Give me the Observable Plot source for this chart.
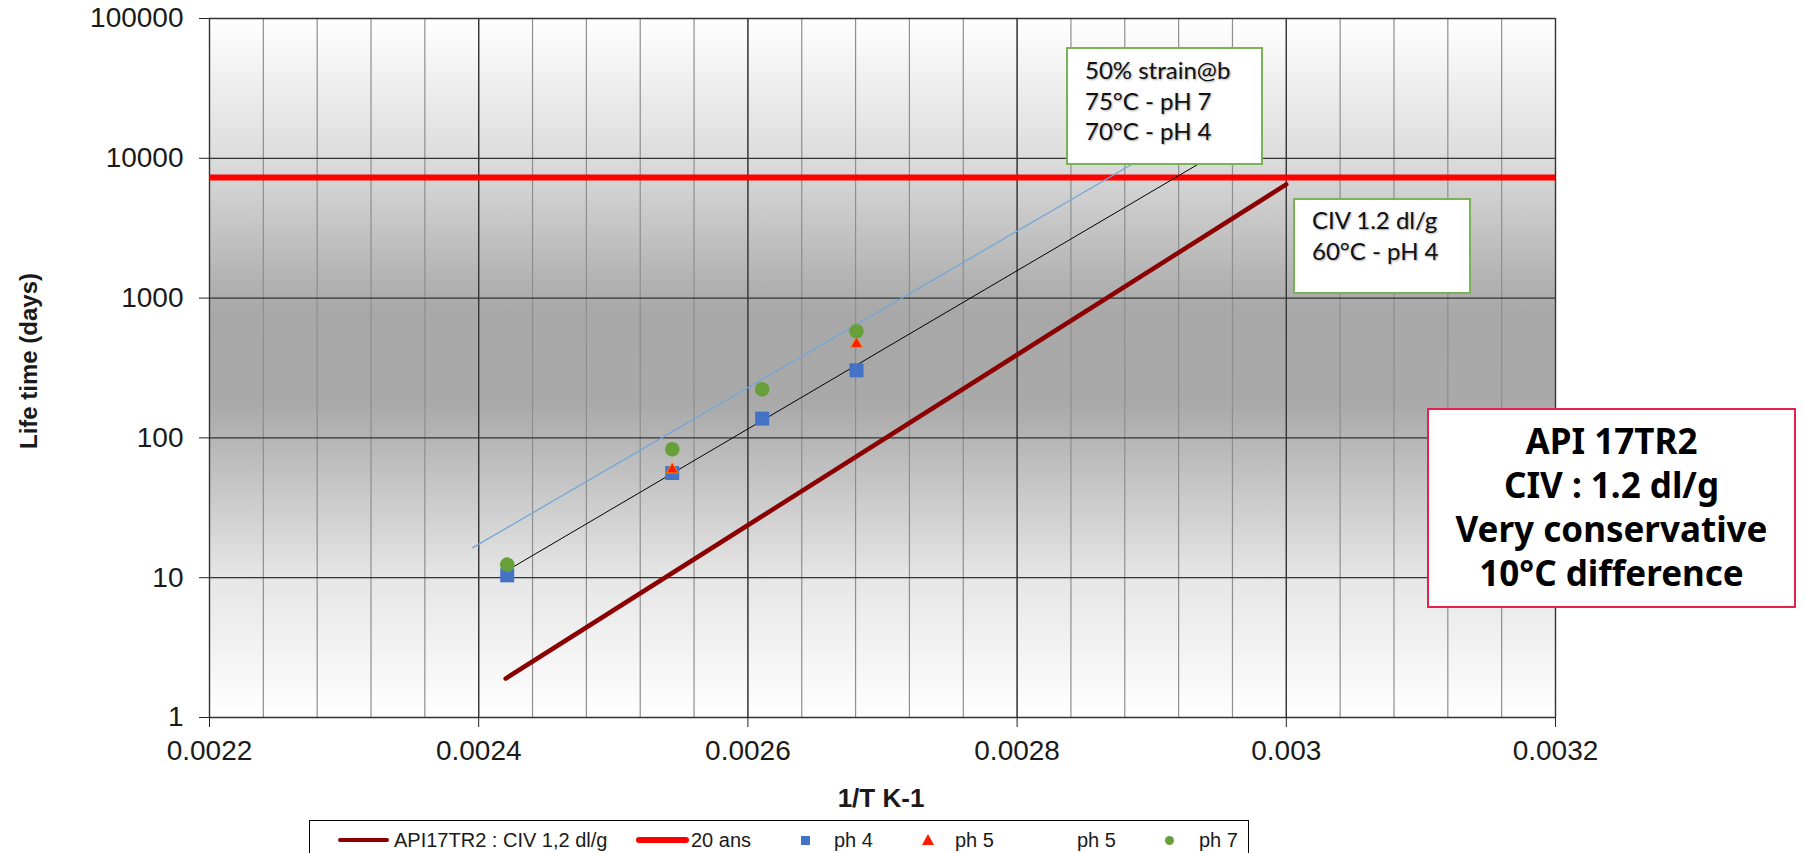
<!DOCTYPE html>
<html>
<head>
<meta charset="utf-8">
<script src="https://cdn.jsdelivr.net/npm/d3@7"></script>
<script src="https://cdn.jsdelivr.net/npm/@observablehq/plot@0.6"></script>
<style>
  body { margin: 0; background: #fff; }
  #wrap { position: relative; width: 1805px; height: 853px; overflow: hidden; font-family: "Liberation Sans", Arial, sans-serif; color: #1a1a1a; }
  #wrap svg { position: absolute; left: 0; top: 0; }
  .abs { position: absolute; white-space: nowrap; }
  .ylab { position: absolute; left: 29px; top: 361px; font-weight: bold; font-size: 24px; transform: translate(-50%, -50%) rotate(-90deg); white-space: nowrap; line-height: 24px; }
  .xlab { position: absolute; left: 881px; top: 798px; font-weight: bold; font-size: 26px; transform: translate(-50%, -50%); white-space: nowrap; line-height: 26px; }
  .note { position: absolute; box-sizing: border-box; background: #fff; font-family: Lato, "Open Sans", sans-serif; font-size: 24px; line-height: 30.7px; color: #111; text-shadow: 1px 1px 2px rgba(0,0,0,0.35); white-space: nowrap; }
  .note1 { left: 1066px; top: 47px; width: 197px; height: 118px; border: 2px solid #7ab356; padding: 6px 0 0 17px; }
  .note2 { left: 1293px; top: 198px; width: 178px; height: 96px; border: 2px solid #7ab356; padding: 5px 0 0 17px; }
  .note3 { position: absolute; box-sizing: border-box; left: 1427px; top: 408px; width: 369px; height: 200px; border: 2px solid #e3234e; background: #fff; padding-top: 9px; text-align: center; font-family: "Noto Sans", "DejaVu Sans", sans-serif; font-weight: bold; font-size: 35px; line-height: 43.9px; color: #000; }
  #legend { position: absolute; left: 309px; top: 820px; width: 940px; height: 60px; box-sizing: border-box; border: 1px solid #000; background: #fff; }
  .lt { position: absolute; top: 19px; font-size: 20px; line-height: 20px; transform: translateY(-50%); white-space: nowrap; color: #1a1a1a; }
  .lline { position: absolute; border-radius: 3px; }
</style>
</head>
<body>
<div id="wrap"></div>
<script>
// ---- data ----
const xTicks = [0.0022, 0.0024, 0.0026, 0.0028, 0.003, 0.0032];
const xTickLabels = ["0.0022", "0.0024", "0.0026", "0.0028", "0.003", "0.0032"];
const yTicks = [1, 10, 100, 1000, 10000, 100000];
const yTickLabels = ["1", "10", "100", "1000", "10000", "100000"];

const invT = [0.0024212, 0.0025438, 0.0026106, 0.0026807];
const ph4 = [10.4, 56.1, 137.4, 304.6];
const ph5X = [0.0025438, 0.0026807];
const ph5 = [59.4, 470];
const ph7 = [12.4, 82.9, 222.8, 579.5];

const apiX = [0.00242, 0.003];
const apiY = [1.9, 6500];
const fit4X = [0.00242, 0.002942];
const fit4Y = [11.1, 10000];
const fit7X = [0.0023956, 0.002893];
const fit7Y = [16.4, 10000];
const limit20ans = [7300];

const seriesNames = ["API17TR2 : CIV 1,2 dl/g", "20 ans", "ph 4", "ph 5", "ph 5", "ph 7"];

// ---- tables ----
const toRows = (xs, ys) => xs.map((x, i) => ({x, y: ys[i]}));
const ph4Rows = toRows(invT, ph4);
const ph5Rows = toRows(ph5X, ph5);
const ph7Rows = toRows(invT, ph7);
const apiRows = toRows(apiX, apiY);
const fit4Rows = toRows(fit4X, fit4Y);
const fit7Rows = toRows(fit7X, fit7Y);
const minorGrid = d3.range(0, 26).map(i => 0.0022 + i * 0.00004);

const chart = Plot.plot({
  width: 1805,
  height: 853,
  marginLeft: 209,
  marginRight: 250,
  marginTop: 18,
  marginBottom: 136,
  x: {domain: [0.0022, 0.0032]},
  y: {type: "log", domain: [1, 100000]},
  style: {fontFamily: "'Liberation Sans', Arial, sans-serif", fontSize: "28px", color: "#1a1a1a", background: "transparent", overflow: "visible"},
  marks: [
    Plot.frame({fill: "url(#bgGrad)", stroke: "none"}),
    Plot.ruleX(minorGrid, {stroke: "#8e8e8e", strokeWidth: 1.2}),
    Plot.ruleX(xTicks, {stroke: "#333", strokeWidth: 1.3}),
    Plot.ruleY(yTicks, {stroke: "#333", strokeWidth: 1.3}),
    Plot.axisX({ticks: xTicks, tickFormat: d => xTickLabels[xTicks.indexOf(d)], tickSize: 10, tickPadding: 13, fontSize: 28, label: null, stroke: "#222"}),
    Plot.axisY({ticks: yTicks, tickFormat: d => yTickLabels[yTicks.indexOf(d)], tickSize: 10, tickPadding: 16, fontSize: 28, label: null, stroke: "#222"}),
    Plot.ruleY(limit20ans, {stroke: "#ff0000", strokeWidth: 6}),
    Plot.line(fit7Rows, {x: "x", y: "y", stroke: "#74a6d9", strokeWidth: 1.3}),
    Plot.line(fit4Rows, {x: "x", y: "y", stroke: "#000", strokeWidth: 1}),
    Plot.line(apiRows, {x: "x", y: "y", stroke: "#8b0000", strokeWidth: 4.5}),
    Plot.dot(ph4Rows, {x: "x", y: "y", symbol: "square", r: 7.9, fill: "#4472c4"}),
    Plot.dot(ph5Rows, {x: "x", y: "y", symbol: "triangle", r: 4.4, fill: "#ff1a00", stroke: "#ff8c00", strokeWidth: 1}),
    Plot.dot(ph7Rows, {x: "x", y: "y", symbol: "circle", r: 7.3, fill: "#67a03a"})
  ]
});

// gradient definition for the plot background
const svg = d3.select(chart);
const grad = svg.insert("defs", ":first-child")
  .append("linearGradient")
  .attr("id", "bgGrad").attr("x1", 0).attr("y1", 0).attr("x2", 0).attr("y2", 1);
[[0, "#ffffff"], [0.2, "#dcdcdc"], [0.42, "#a8a8a8"], [0.55, "#a9a9a9"], [0.8, "#e6e6e6"], [1, "#ffffff"]]
  .forEach(([o, c]) => grad.append("stop").attr("offset", o).attr("stop-color", c));

const wrap = document.getElementById("wrap");
wrap.appendChild(chart);

// axis titles
wrap.insertAdjacentHTML("beforeend", `<div class="ylab">Life time (days)</div><div class="xlab">1/T K-1</div>`);

// annotation boxes
wrap.insertAdjacentHTML("beforeend", `
  <div class="note note1">50% strain@b<br>75°C - pH 7<br>70°C - pH 4</div>
  <div class="note note2">CIV 1.2 dl/g<br>60°C - pH 4</div>
  <div class="note3">API 17TR2<br>CIV : 1.2 dl/g<br>Very conservative<br>10°C difference</div>
`);

// legend
const L = 309, T = 820;
const legend = document.createElement("div");
legend.id = "legend";
legend.innerHTML = `
  <div class="lline" style="left:${337-L}px;top:${17}px;width:51px;height:4px;background:#8b0000"></div>
  <div class="lt" style="left:${393-L}px">${seriesNames[0]}</div>
  <div class="lline" style="left:${635-L}px;top:${16}px;width:53px;height:6px;background:#ff0000"></div>
  <div class="lt" style="left:${690-L}px">${seriesNames[1]}</div>
  <div style="position:absolute;left:${800-L}px;top:${14.5}px;width:9px;height:9px;background:#4472c4"></div>
  <div class="lt" style="left:${833-L}px">${seriesNames[2]}</div>
  <svg style="position:absolute;left:${921-L}px;top:${13}px" width="12" height="11"><polygon points="6,0 12,11 0,11" fill="#ff1a00"/></svg>
  <div class="lt" style="left:${954-L}px">${seriesNames[3]}</div>
  <div class="lt" style="left:${1076-L}px">${seriesNames[4]}</div>
  <div style="position:absolute;left:${1163.5-L}px;top:${14.5}px;width:9px;height:9px;border-radius:50%;background:#67a03a"></div>
  <div class="lt" style="left:${1198-L}px">${seriesNames[5]}</div>
`;
wrap.appendChild(legend);
</script>
</body>
</html>
